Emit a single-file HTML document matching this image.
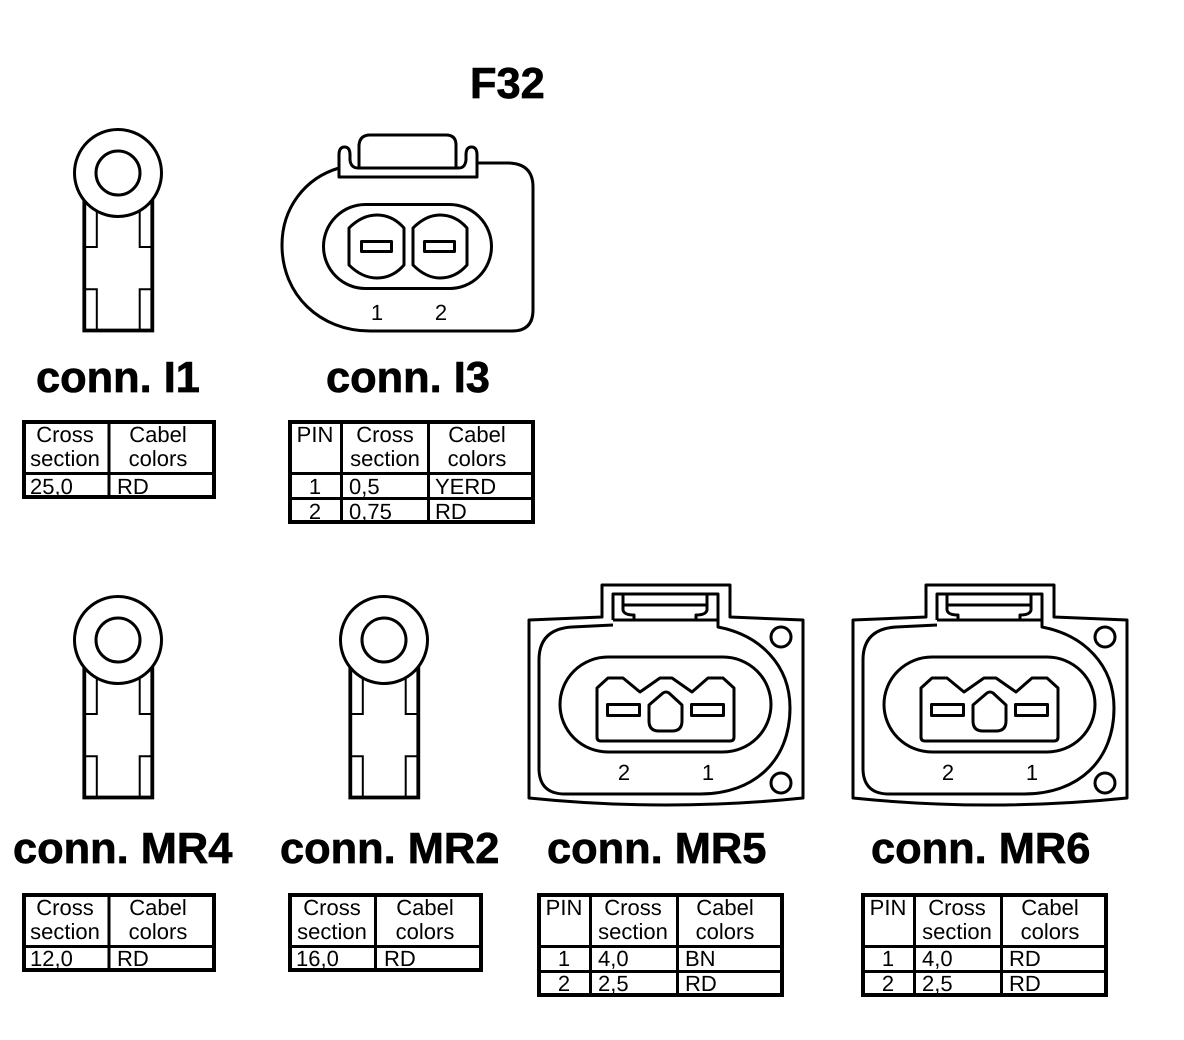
<!DOCTYPE html>
<html><head><meta charset="utf-8"><style>
html,body{margin:0;padding:0;background:#fff}
svg{display:block}
text{font-family:"Liberation Sans",Arial,sans-serif;fill:#000;text-rendering:geometricPrecision}
.t{font-size:43.400px;font-weight:bold;stroke:#000;stroke-width:.7px}
.s{font-size:22px}
.m{text-anchor:middle}
.g{fill:none;stroke:#000;stroke-width:3;stroke-linejoin:round}
.b{fill:none;stroke:#000;stroke-width:4}
.l{stroke:#000;stroke-width:3}
</style></head><body>
<svg width="1184" height="1040" viewBox="0 0 1184 1040" xmlns="http://www.w3.org/2000/svg">
<rect width="1184" height="1040" fill="#fff"/>
<defs>
<g id="ring">
<path d="M84.300 195V330.500H152.300V195" fill="none" stroke="#000" stroke-width="3.800" stroke-linejoin="miter"/>
<path d="M96.800 205V247H84M139.700 205V247H152M84 289.200H96.800V330M152 289.200H139.700V330" fill="none" stroke="#000" stroke-width="2"/>
<circle cx="118" cy="173" r="43.5" fill="#fff" stroke="#000" stroke-width="3"/>
<circle cx="118" cy="173" r="22" fill="#fff" stroke="#000" stroke-width="3"/>
</g>
<g id="big">
<path class="g" d="M529 620L602 617V585H730V617L803 620V798Q666 812 529 798Z"/>
<path class="g" d="M613 620V594H718V620H613M623 594V610Q624 615 634 615V620M707 594V610Q706 615 696 615V620M623 605H707"/>
<path class="g" d="M613 625L572 627Q539 629 539 660V770Q540 794 565 794H700C755 794 790 760 790 708C790 665 760 635 718 627V620"/>
<rect class="g" x="560" y="657" width="211" height="95" rx="48"/>
<path class="g" d="M597 688L608 678H623L640 692L660 678H672L692 692L708 678H723L734 688V737Q734 741 730 741H601Q597 741 597 737Z"/>
<rect class="g" x="607.500" y="704.500" width="32" height="11"/>
<rect class="g" x="691.500" y="704.500" width="32" height="11"/>
<path class="g" d="M649 705L663 693Q666 691 669 693L682 705V721Q682 731 672 731H659Q649 731 649 721Z"/>
<circle class="g" cx="781" cy="637" r="10"/>
<circle class="g" cx="781" cy="783" r="10"/>
</g>
</defs>

<text class="t" x="470" y="98">F32</text>

<!-- I1 -->
<use href="#ring"/>
<text class="t" x="36" y="392">conn. I1</text>

<!-- I3 -->
<path class="g" d="M339 168C305 178 282 208 282 245C282 295 320 331 370 331H512Q533 331 533 310V187Q533 163 507 163H477"/>
<path class="g" d="M339 177V155Q339 147 344.500 147Q350 147 350 155V160Q351 168 358 168H459Q465 168 466 160V155Q466 147 471.500 147Q477 147 477 155V177Z"/>
<path class="g" d="M359 168V145Q360 135 370 135H446Q456 135 456 145V168"/>
<rect class="g" x="323.500" y="204.500" width="168" height="84" rx="42"/>
<path class="g" d="M349 228C357 220 366 215 377 215C388 215 397 220 404 228V265C397 273 388 278 377 278C366 278 357 273 349 265Z"/>
<path class="g" d="M413 228C421 220 430 215 440 215C451 215 460 220 467 228V265C460 273 451 278 440 278C430 278 421 273 413 265Z"/>
<rect class="g" x="361.500" y="241.500" width="30" height="10"/>
<rect class="g" x="424.500" y="241.500" width="30" height="10"/>
<text class="s m" x="377" y="320">1</text>
<text class="s m" x="441" y="320">2</text>
<text class="t" x="326" y="392">conn. I3</text>

<!-- row 2 -->
<use href="#ring" y="467"/>
<use href="#ring" x="266" y="467"/>
<use href="#big"/>
<use href="#big" x="324"/>
<text class="s m" x="624" y="780">2</text>
<text class="s m" x="708" y="780">1</text>
<text class="s m" x="948" y="780">2</text>
<text class="s m" x="1032" y="780">1</text>
<text class="t" x="13" y="863">conn. MR4</text>
<text class="t" x="280" y="863">conn. MR2</text>
<text class="t" x="547" y="863">conn. MR5</text>
<text class="t" x="871" y="863">conn. MR6</text>

<!-- table I1 -->
<text class="s m" x="65" y="442">Cross</text><text class="s m" x="65" y="466">section</text>
<text class="s m" x="158" y="442">Cabel</text><text class="s m" x="158" y="466">colors</text>
<text class="s" x="30" y="494">25,0</text><text class="s" x="117" y="494">RD</text>
<path class="b" d="M24 422H214V497H24Z"/><path class="l" d="M109 422V497M24 473.500H214"/>

<!-- table I3 -->
<text class="s m" x="315" y="442">PIN</text>
<text class="s m" x="385" y="442">Cross</text><text class="s m" x="385" y="466">section</text>
<text class="s m" x="477" y="442">Cabel</text><text class="s m" x="477" y="466">colors</text>
<text class="s m" x="315" y="494">1</text><text class="s" x="349" y="494">0,5</text><text class="s" x="435" y="494">YERD</text>
<text class="s m" x="315" y="519">2</text><text class="s" x="349" y="519">0,75</text><text class="s" x="435" y="519">RD</text>
<path class="b" d="M290 422H533V522H290Z"/><path class="l" d="M341.500 422V522M428.500 422V522M290 473.500H533M290 498.500H533"/>

<!-- table MR4 -->
<text class="s m" x="65" y="915">Cross</text><text class="s m" x="65" y="939">section</text>
<text class="s m" x="158" y="915">Cabel</text><text class="s m" x="158" y="939">colors</text>
<text class="s" x="30" y="966">12,0</text><text class="s" x="117" y="966">RD</text>
<path class="b" d="M24 895H214V970H24Z"/><path class="l" d="M109 895V970M24 946.500H214"/>

<!-- table MR2 -->
<text class="s m" x="332" y="915">Cross</text><text class="s m" x="332" y="939">section</text>
<text class="s m" x="425" y="915">Cabel</text><text class="s m" x="425" y="939">colors</text>
<text class="s" x="296" y="966">16,0</text><text class="s" x="384" y="966">RD</text>
<path class="b" d="M290 895H481V970H290Z"/><path class="l" d="M375.500 895V970M290 946.500H481"/>

<!-- table MR5 -->
<text class="s m" x="564" y="915">PIN</text>
<text class="s m" x="633" y="915">Cross</text><text class="s m" x="633" y="939">section</text>
<text class="s m" x="725" y="915">Cabel</text><text class="s m" x="725" y="939">colors</text>
<text class="s m" x="564" y="966">1</text><text class="s" x="598" y="966">4,0</text><text class="s" x="685" y="966">BN</text>
<text class="s m" x="564" y="991">2</text><text class="s" x="598" y="991">2,5</text><text class="s" x="685" y="991">RD</text>
<path class="b" d="M539 895H782V995H539Z"/><path class="l" d="M590.500 895V995M677.500 895V995M539 946.500H782M539 971.500H782"/>

<!-- table MR6 -->
<text class="s m" x="888" y="915">PIN</text>
<text class="s m" x="957" y="915">Cross</text><text class="s m" x="957" y="939">section</text>
<text class="s m" x="1050" y="915">Cabel</text><text class="s m" x="1050" y="939">colors</text>
<text class="s m" x="888" y="966">1</text><text class="s" x="922" y="966">4,0</text><text class="s" x="1009" y="966">RD</text>
<text class="s m" x="888" y="991">2</text><text class="s" x="922" y="991">2,5</text><text class="s" x="1009" y="991">RD</text>
<path class="b" d="M863 895H1106V995H863Z"/><path class="l" d="M914.500 895V995M1001.500 895V995M863 946.500H1106M863 971.500H1106"/>
</svg>
</body></html>
